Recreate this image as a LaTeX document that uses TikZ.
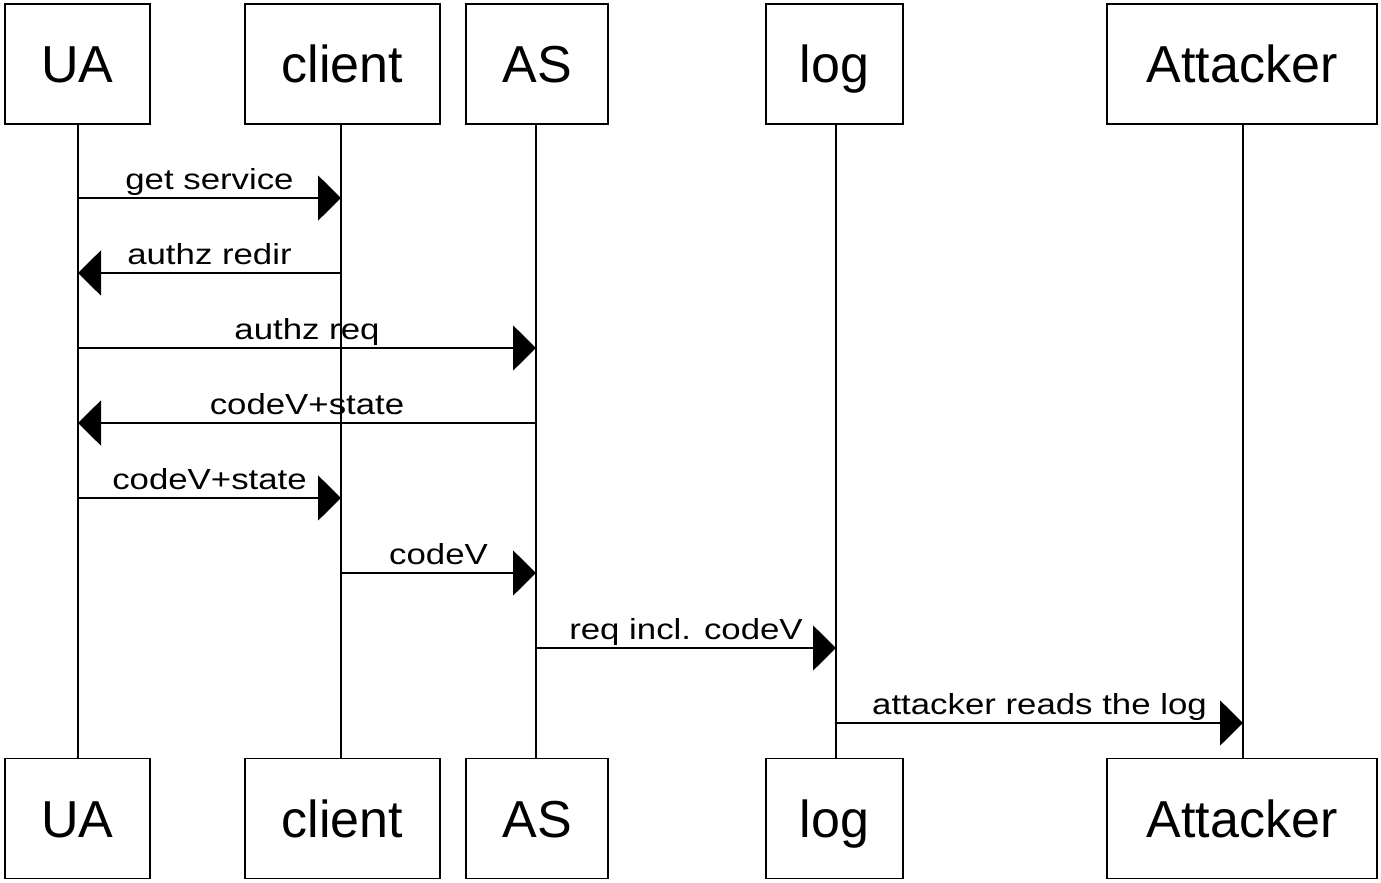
\documentclass[tikz,border=0pt]{standalone}
\usepackage{fontspec}
\setmainfont{Liberation Sans}
\usetikzlibrary{arrows.meta}
\tikzset{
  actor/.style={draw=black, line width=1.8pt, fill=white, rectangle, minimum height=120pt,
    inner sep=0pt, font=\fontsize{52}{60}\selectfont, text height=37.2pt, text depth=0pt},
  life/.style={draw=black, line width=1.8pt},
  msg/.style={draw=black, line width=1.8pt, -{Triangle[length=23pt,width=45pt]}},
  lbl/.style={font=\fontsize{29}{34}\selectfont, anchor=base, yshift=9pt, inner sep=0pt}
}
\newcommand{\wide}[1]{\scalebox{1.2}[1]{#1}}
\begin{document}
\begin{tikzpicture}[x=1pt,y=-1pt]
\useasboundingbox (0,0) rectangle (1381,883);
% top boxes
\node[actor, minimum width=145pt] (uaT) at (77.5,64) {UA};
\node[actor, minimum width=195pt] (clT) at (342.5,64) {client};
\node[actor, minimum width=142pt] (asT) at (537,64) {AS};
\node[actor, minimum width=137pt] (logT) at (834.5,64) {log};
\node[actor, minimum width=270pt] (atT) at (1242,64) {Attacker};
% bottom boxes
\node[actor, minimum width=145pt] (uaB) at (77.5,818.5) {UA};
\node[actor, minimum width=195pt] (clB) at (342.5,818.5) {client};
\node[actor, minimum width=142pt] (asB) at (537,818.5) {AS};
\node[actor, minimum width=137pt] (logB) at (834.5,818.5) {log};
\node[actor, minimum width=270pt] (atB) at (1242,818.5) {Attacker};
% lifeline coordinates
\coordinate (uaL) at (78,0);
\coordinate (clL) at (341,0);
\coordinate (asL) at (536,0);
\coordinate (logL) at (836,0);
\coordinate (atL) at (1243,0);
\draw[life] (uaL |- uaT.south) -- (uaL |- uaB.north);
\draw[life] (clL |- clT.south) -- (clL |- clB.north);
\draw[life] (asL |- asT.south) -- (asL |- asB.north);
\draw[life] (logL |- logT.south) -- (logL |- logB.north);
\draw[life] (atL |- atT.south) -- (atL |- atB.north);
% message levels
\coordinate (y1) at (0,198);
\coordinate (y2) at (0,273);
\coordinate (y3) at (0,348);
\coordinate (y4) at (0,423);
\coordinate (y5) at (0,498);
\coordinate (y6) at (0,573);
\coordinate (y7) at (0,648);
\coordinate (y8) at (0,723);
\draw[msg] (uaL |- y1) -- node[lbl]{\wide{get service}} (clL |- y1);
\draw[msg] (clL |- y2) -- node[lbl]{\wide{authz redir}} (uaL |- y2);
\draw[msg] (uaL |- y3) -- node[lbl]{\wide{authz req}} (asL |- y3);
\draw[msg] (asL |- y4) -- node[lbl]{\wide{codeV+state}} (uaL |- y4);
\draw[msg] (uaL |- y5) -- node[lbl]{\wide{codeV+state}} (clL |- y5);
\draw[msg] (clL |- y6) -- node[lbl]{\wide{codeV}} (asL |- y6);
\draw[msg] (asL |- y7) -- node[lbl]{\wide{req incl. codeV}} (logL |- y7);
\draw[msg] (logL |- y8) -- node[lbl]{\wide{attacker reads the log}} (atL |- y8);
\end{tikzpicture}
\end{document}
